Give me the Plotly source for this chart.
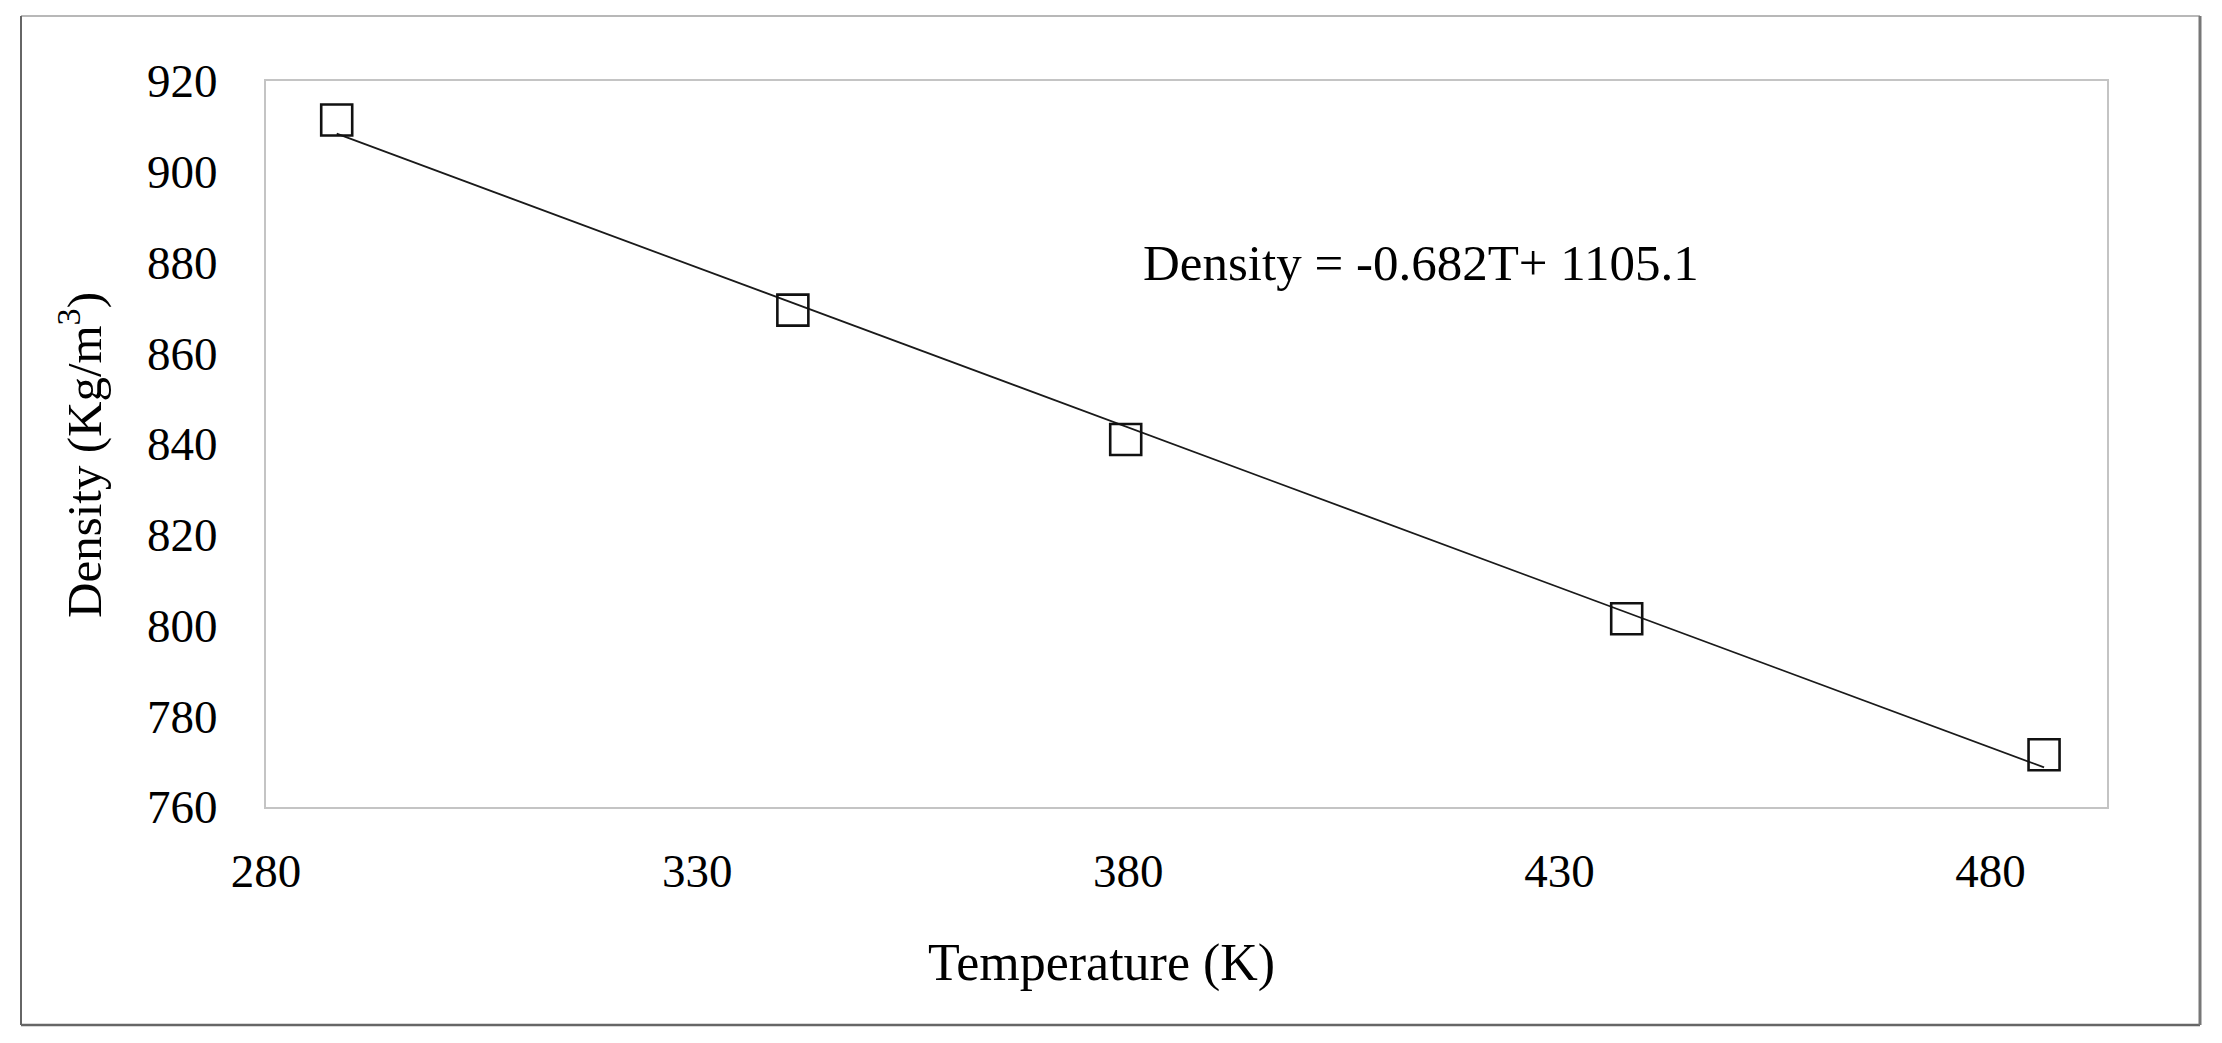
import numpy as np
import plotly.graph_objects as go

# Data
temperature_K = [288.2, 341.1, 379.7, 437.8, 486.2]
density = [911.4, 869.5, 841.0, 801.5, 771.5]
x_ticks = [280, 330, 380, 430, 480]
y_ticks = [760, 780, 800, 820, 840, 860, 880, 900, 920]
equation_text = "Density = -0.682T+ 1105.1"

OFF = 8  # default body margin of the html page
W, H = 2222 - OFF, 1043 - OFF
# plot area in page px, converted to figure px
L, R, T, B = 266 - OFF, 2107 - OFF, 81 - OFF, 807 - OFF

# linear trendline (least squares over the data range)
coef = np.polyfit(temperature_K, density, 1)
t_line = [min(temperature_K), max(temperature_K)]
d_line = list(np.polyval(coef, t_line))

FONT = "Liberation Serif, Times New Roman, serif"

fig = go.Figure()
fig.add_trace(go.Scatter(x=t_line, y=d_line, mode="lines",
                         line=dict(color="#1a1a1a", width=1.8),
                         showlegend=False, hoverinfo="skip"))
fig.add_trace(go.Scatter(x=temperature_K, y=density, mode="markers",
                         marker=dict(symbol="square-open", size=31, color="#111111",
                                     line=dict(width=2.6, color="#111111")),
                         showlegend=False))

pw, ph = R - L, B - T
def px(xp):  # page px -> paper
    return (xp - OFF - L) / pw
def py(yp):
    return (B - (yp - OFF)) / ph

shapes = [
    # outer chart border
    dict(type="line", xref="paper", yref="paper", x0=px(21), x1=px(2200), y0=py(16), y1=py(16),
         line=dict(color="#b8b8b8", width=2)),
    dict(type="line", xref="paper", yref="paper", x0=px(21), x1=px(21), y0=py(16), y1=py(1025),
         line=dict(color="#666666", width=2)),
    dict(type="line", xref="paper", yref="paper", x0=px(21), x1=px(2200), y0=py(1025), y1=py(1025),
         line=dict(color="#666666", width=2.5)),
    dict(type="line", xref="paper", yref="paper", x0=px(2200), x1=px(2200), y0=py(16), y1=py(1025),
         line=dict(color="#777777", width=3)),
]

fig.update_layout(
    width=W, height=H,
    margin=dict(l=L, r=W - R, t=T, b=H - B),
    paper_bgcolor="white", plot_bgcolor="white",
    font=dict(family=FONT, color="black", size=47),
    shapes=shapes,
    annotations=[
        dict(text=equation_text, x=px(1421), y=py(263), xref="paper", yref="paper", showarrow=False,
             font=dict(family=FONT, size=51, color="black"), xanchor="center", yanchor="middle"),
        dict(text="Temperature (K)", x=px(1101), y=py(963), xref="paper", yref="paper",
             showarrow=False, font=dict(family=FONT, size=52, color="black"),
             xanchor="center", yanchor="middle"),
        dict(text="Density (Kg/m<sup>3</sup>)", x=px(80), y=py(455), xref="paper", yref="paper",
             showarrow=False, textangle=-90, font=dict(family=FONT, size=49, color="black"),
             xanchor="center", yanchor="middle"),
    ],
)
fig.update_xaxes(range=[280, 493.5], tickvals=x_ticks, ticktext=[str(v) for v in x_ticks],
                 showgrid=False, zeroline=False, showline=True, mirror=True,
                 linecolor="#c4c4c4", linewidth=2, ticks="", ticklabelstandoff=22,
                 tickfont=dict(family=FONT, size=47))
fig.update_yaxes(range=[760, 920], tickvals=y_ticks, ticktext=[str(v) for v in y_ticks],
                 showgrid=False, zeroline=False, showline=True, mirror=True,
                 linecolor="#c4c4c4", linewidth=2, ticks="", ticklabelstandoff=37,
                 tickfont=dict(family=FONT, size=47))

fig.write_html("out.html")
